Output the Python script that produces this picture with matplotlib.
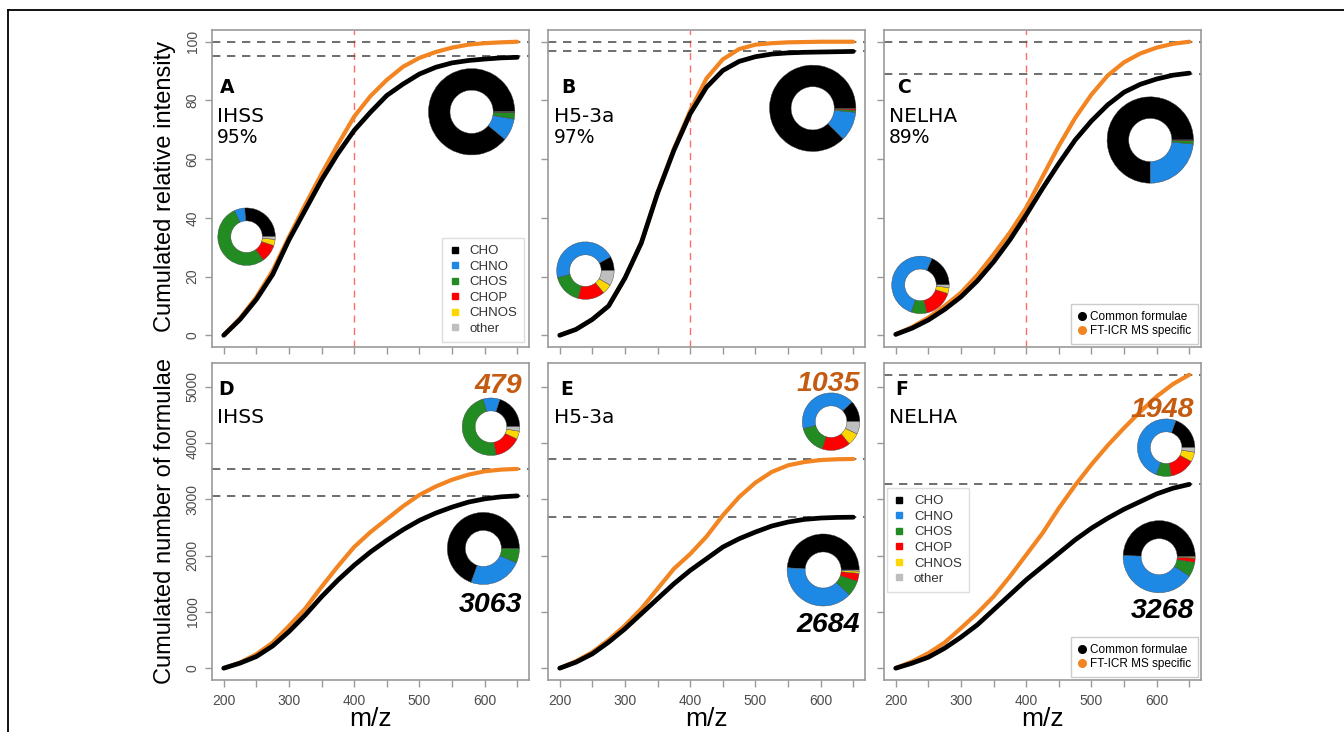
import matplotlib
matplotlib.use('Agg')
import matplotlib.pyplot as plt
from matplotlib.lines import Line2D

plt.rcParams['font.family'] = ['Liberation Sans', 'DejaVu Sans']

# ---- data ----
mz = [200, 225, 250, 275, 300, 325, 350, 375, 400, 425,
      450, 475, 500, 525, 550, 575, 600, 625, 650]

samples = ['IHSS', 'H5-3a', 'NELHA']
panel_top = ['A', 'B', 'C']
panel_bot = ['D', 'E', 'F']
coverage = [95, 97, 89]          # % of intensity carried by common formulae
n_common = [3063, 2684, 3268]
n_specific = [479, 1035, 1948]

# cumulated relative intensity (common formulae / all formulae)
ihss_int_common = [0, 5.4, 12.2, 20.7, 32.5, 42.7, 52.9, 61.9, 69.8, 76.0,
                   81.7, 85.6, 89.0, 91.3, 92.8, 93.6, 94.1, 94.5, 94.7]
ihss_int_total = [0, 5.8, 13.0, 22.0, 33.5, 44.5, 55.0, 65.0, 74.5, 81.5,
                  87.0, 91.5, 94.5, 96.5, 98.0, 99.0, 99.5, 99.8, 100]
h53a_int_common = [0, 2.0, 5.4, 10.0, 19.5, 31.4, 48.4, 63.0, 75.5, 84.5,
                   90.2, 93.3, 94.9, 95.8, 96.2, 96.4, 96.5, 96.6, 96.7]
h53a_int_total = [0, 2.0, 5.4, 10.0, 19.5, 31.6, 48.6, 63.5, 76.5, 87.5,
                  94.0, 97.5, 99.0, 99.5, 99.8, 99.9, 100, 100, 100]
nelha_int_common = [0.3, 2.4, 5.2, 8.8, 13.1, 18.5, 25.0, 32.5, 41.0, 50.0,
                    58.5, 66.5, 73.0, 78.5, 82.8, 85.5, 87.3, 88.6, 89.3]
nelha_int_total = [0.3, 2.8, 6.0, 10.0, 14.5, 20.5, 27.5, 35.0, 43.5, 54.0,
                   64.5, 74.0, 82.0, 88.5, 93.0, 96.0, 98.0, 99.3, 100]

# cumulated number of formulae (common / common + FT-ICR MS specific)
ihss_n_common = [0, 90, 207, 395, 650, 945, 1270, 1565, 1830, 2066,
                 2273, 2462, 2627, 2757, 2863, 2952, 3010, 3046, 3063]
ihss_n_total = [0, 100, 248, 455, 750, 1062, 1446, 1812, 2155, 2420,
                2650, 2880, 3080, 3230, 3350, 3440, 3500, 3530, 3542]
h53a_n_common = [0, 107, 255, 463, 700, 967, 1234, 1500, 1738, 1945,
                 2153, 2301, 2420, 2527, 2598, 2645, 2669, 2680, 2684]
h53a_n_total = [0, 125, 285, 504, 760, 1056, 1412, 1767, 2030, 2340,
                2716, 3042, 3298, 3488, 3606, 3665, 3700, 3714, 3719]
nelha_n_common = [0, 89, 195, 355, 551, 770, 1037, 1303, 1570, 1807,
                  2044, 2281, 2488, 2666, 2826, 2962, 3098, 3199, 3268]
nelha_n_total = [0, 118, 267, 456, 711, 977, 1274, 1629, 2014, 2399,
                 2844, 3250, 3620, 3960, 4270, 4560, 4830, 5050, 5216]

# elemental composition of the donuts (%)
elements = ['CHO', 'CHNO', 'CHOS', 'CHOP', 'CHNOS', 'other']
elem_colors = ['black', '#1E88E5', '#228B22', '#FF0000', '#FFD700', '#BEBEBE']
ihss_int_spec = [26, 6, 53, 10, 3.5, 1.5]
ihss_int_comm = [89, 8.3, 2.5, 0.1, 0.05, 0.05]
h53a_int_spec = [8, 46, 17, 15, 5.5, 8.5]
h53a_int_comm = [87.5, 11, 0.8, 0.5, 0.1, 0.1]
nelha_int_spec = [19, 53, 9, 17, 3.5, 1.5]
nelha_int_comm = [75, 23.5, 1.2, 0.3, 0, 0]
ihss_n_spec = [20, 9.5, 48.5, 15, 4.5, 2.5]
ihss_n_comm = [69.5, 24, 6.5, 0, 0, 0]
h53a_n_spec = [12, 42, 16, 16, 7, 7]
h53a_n_comm = [49, 39, 7, 3.5, 1, 0.5]
nelha_n_spec = [19.5, 50, 8.5, 14, 5.5, 2.5]
nelha_n_comm = [49.5, 41.5, 6.5, 1.8, 0.5, 0.2]

int_common = [ihss_int_common, h53a_int_common, nelha_int_common]
int_total = [ihss_int_total, h53a_int_total, nelha_int_total]
n_comm_curve = [ihss_n_common, h53a_n_common, nelha_n_common]
n_total_curve = [ihss_n_total, h53a_n_total, nelha_n_total]
int_spec_comp = [ihss_int_spec, h53a_int_spec, nelha_int_spec]
int_comm_comp = [ihss_int_comm, h53a_int_comm, nelha_int_comm]
n_spec_comp = [ihss_n_spec, h53a_n_spec, nelha_n_spec]
n_comm_comp = [ihss_n_comm, h53a_n_comm, nelha_n_comm]

ORANGE = '#F28522'
ORANGE_TXT = '#C55A11'
SPINE = '#9a9a9a'

# ---- layout (pixels) ----
W, H = 1344, 732
col_left = [212, 548, 884]
row_top = [30, 363]
size = 317

fig = plt.figure(figsize=(W / 100, H / 100), dpi=100)

# frame lines of the figure (top and left)
fig.add_artist(Line2D([8 / W, 1], [1 - 10 / H, 1 - 10 / H], color='black', lw=1.3))
fig.add_artist(Line2D([8 / W, 8 / W], [0, 1 - 10 / H], color='black', lw=1.3))


def make_axes(left, top):
    ax = fig.add_axes([left / W, 1 - (top + size) / H, size / W, size / H])
    for s in ax.spines.values():
        s.set_color(SPINE)
        s.set_linewidth(1.2)
    ax.tick_params(direction='out', length=5, width=1, color=SPINE,
                   labelcolor='#4d4d4d', labelsize=10)
    ax.set_xlim(182, 668)
    return ax


def donut(ax, cx, cy, r, comp, width):
    ins = ax.inset_axes([cx - r, cy - r, 2 * r, 2 * r])
    ins.pie(comp, colors=elem_colors, startangle=0, counterclock=True,
            wedgeprops=dict(width=width, edgecolor='#444444', linewidth=0.3))
    ins.set_xlim(-1.02, 1.02)
    ins.set_ylim(-1.02, 1.02)
    ins.set_aspect('equal')
    ins.axis('off')


xt = list(range(200, 651, 50))
xt_lab = [str(v) if v % 100 == 0 else '' for v in xt]

# donut positions (axes fraction): small = specific, big = common
top_small = [(0.109, 0.348), (0.118, 0.241), (0.115, 0.196)]
top_big = [(0.819, 0.742), (0.835, 0.753), (0.840, 0.653)]
bot_small = [(0.880, 0.799), (0.893, 0.815), (0.890, 0.733)]
bot_big = [(0.856, 0.415), (0.868, 0.347), (0.868, 0.389)]
letter_x = [0.025, 0.041, 0.041]
letter_x_bot = [0.019, 0.038, 0.035]
name_x = [0.015, 0.019, 0.016]
num_x = [0.978, 0.984, 0.978]
spec_y = [0.905, 0.912, 0.830]
comm_y = [0.215, 0.151, 0.196]

elem_handles = [Line2D([], [], ls='none', marker='s', ms=5, mfc=c, mec=c)
                for c in elem_colors]
src_handles = [Line2D([], [], ls='none', marker='o', ms=5.5, mfc='black', mec='black'),
               Line2D([], [], ls='none', marker='o', ms=5.5, mfc=ORANGE, mec=ORANGE)]
src_labels = ['Common formulae', 'FT-ICR MS specific']


def elem_legend(ax, loc, anchor):
    leg = ax.legend(elem_handles, elements, loc=loc, bbox_to_anchor=anchor,
                    fontsize=9.5, handlelength=0.8, handletextpad=0.7,
                    labelspacing=0.25, borderpad=0.55, fancybox=False,
                    edgecolor='#dddddd', framealpha=1, borderaxespad=0)
    for t in leg.get_texts():
        t.set_color('#333333')
    leg.set_zorder(10)
    return leg


def src_legend(ax):
    leg = ax.legend(src_handles, src_labels, loc='lower right',
                    bbox_to_anchor=(0.991, 0.009), fontsize=8.5,
                    handlelength=0.6, handletextpad=0.4, labelspacing=0.2,
                    borderpad=0.6, fancybox=False, edgecolor='#cccccc',
                    framealpha=1, borderaxespad=0)
    leg.set_zorder(10)
    return leg


for j in range(3):
    # ---- top row: cumulated relative intensity ----
    ax = make_axes(col_left[j], row_top[0])
    ax.set_ylim(-4, 104)
    ax.axvline(400, color='#FF6B6B', lw=1, ls=(0, (5, 4)), zorder=1)
    ax.axhline(100, color='#555555', lw=1.2, ls=(0, (5, 4)), zorder=1)
    ax.axhline(coverage[j], color='#555555', lw=1.2, ls=(0, (5, 4)), zorder=1)
    ax.plot(mz, int_total[j], color=ORANGE, lw=3.0, solid_capstyle='round', zorder=2)
    ax.plot(mz, int_common[j], color='black', lw=3.4, solid_capstyle='round', zorder=3)
    ax.set_xticks(xt, [''] * len(xt))
    if j == 0:
        ax.set_yticks([0, 20, 40, 60, 80, 100], ['0', '20', '40', '60', '80', '100'],
                      rotation=90, va='center')
    else:
        ax.set_yticks([0, 20, 40, 60, 80, 100], [''] * 6)
    ax.tick_params(axis='y', pad=4)
    ax.text(letter_x[j], 0.849, panel_top[j], transform=ax.transAxes,
            fontsize=13.5, fontweight='bold', family='DejaVu Sans', va='top', ha='left')
    ax.text(name_x[j], 0.758, samples[j], transform=ax.transAxes,
            fontsize=14.5, family='DejaVu Sans', va='top', ha='left')
    ax.text(name_x[j], 0.690, '%d%%' % coverage[j], transform=ax.transAxes,
            fontsize=13.5, family='DejaVu Sans', va='top', ha='left')
    cx, cy = top_small[j]
    donut(ax, cx, cy, 0.0925, int_spec_comp[j], 0.45)
    cx, cy = top_big[j]
    donut(ax, cx, cy, 0.139, int_comm_comp[j], 0.5)
    if j == 0:
        elem_legend(ax, 'lower right', (0.985, 0.015))
    if j == 2:
        src_legend(ax)

    # ---- bottom row: cumulated number of formulae ----
    ax = make_axes(col_left[j], row_top[1])
    ax.set_ylim(-210, 5425)
    ax.axhline(n_common[j], color='#555555', lw=1.2, ls=(0, (5, 4)), zorder=1)
    ax.axhline(n_common[j] + n_specific[j], color='#555555', lw=1.2,
               ls=(0, (5, 4)), zorder=1)
    ax.plot(mz, n_total_curve[j], color=ORANGE, lw=3.0, solid_capstyle='round', zorder=2)
    ax.plot(mz, n_comm_curve[j], color='black', lw=3.4, solid_capstyle='round', zorder=3)
    ax.set_xticks(xt, xt_lab)
    ax.tick_params(axis='x', pad=5)
    yt = [0, 1000, 2000, 3000, 4000, 5000]
    if j == 0:
        ax.set_yticks(yt, [str(v) for v in yt], rotation=90, va='center')
    else:
        ax.set_yticks(yt, [''] * len(yt))
    ax.tick_params(axis='y', pad=4)
    ax.set_xlabel('m/z', fontsize=19, labelpad=-1)
    ax.text(letter_x_bot[j], 0.946, panel_bot[j], transform=ax.transAxes,
            fontsize=13.5, fontweight='bold', family='DejaVu Sans', va='top', ha='left')
    ax.text(name_x[j], 0.858, samples[j], transform=ax.transAxes,
            fontsize=14.5, family='DejaVu Sans', va='top', ha='left')
    ax.text(num_x[j], spec_y[j], str(n_specific[j]), transform=ax.transAxes,
            fontsize=20.5, fontweight='bold', style='italic', color=ORANGE_TXT,
            ha='right', va='baseline', zorder=6)
    ax.text(num_x[j], comm_y[j], str(n_common[j]), transform=ax.transAxes,
            fontsize=20.5, fontweight='bold', style='italic', color='black',
            ha='right', va='baseline', zorder=6)
    cx, cy = bot_small[j]
    donut(ax, cx, cy, 0.0925, n_spec_comp[j], 0.45)
    cx, cy = bot_big[j]
    donut(ax, cx, cy, 0.116, n_comm_comp[j], 0.5)
    if j == 2:
        leg1 = elem_legend(ax, 'upper left', (0.009, 0.606))
        ax.add_artist(leg1)
        src_legend(ax)

fig.text(165 / W, 1 - 186 / H, 'Cumulated relative intensity', rotation=90,
         fontsize=17, ha='center', va='center')
fig.text(165 / W, 1 - 521 / H, 'Cumulated number of formulae', rotation=90,
         fontsize=17, ha='center', va='center')

fig.savefig('out.png', dpi=100)
